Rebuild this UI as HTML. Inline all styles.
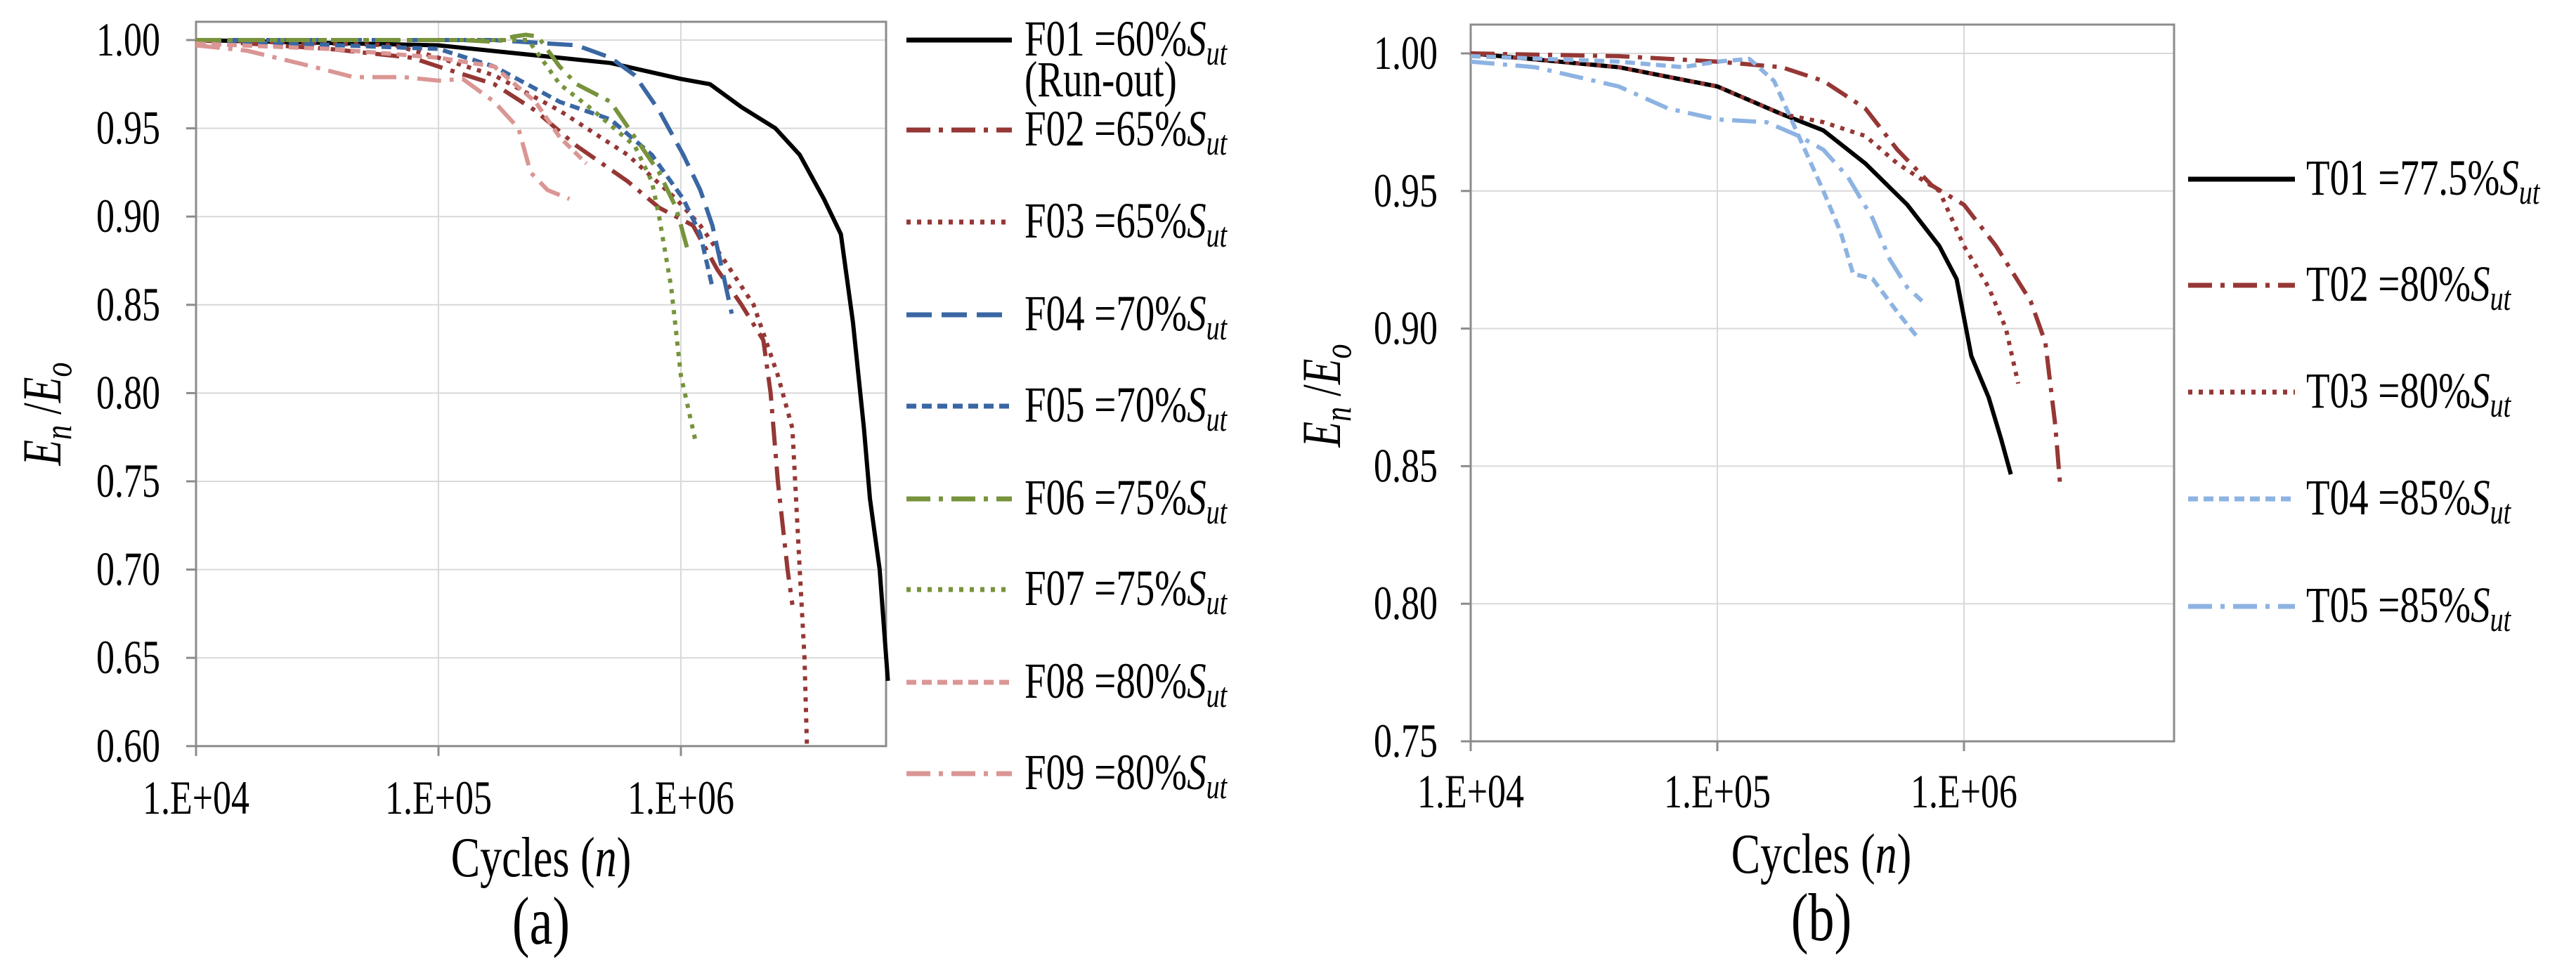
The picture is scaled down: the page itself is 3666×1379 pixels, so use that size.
<!DOCTYPE html>
<html><head><meta charset="utf-8"><style>
html,body{margin:0;padding:0;background:#fff}
svg{display:block}
text{font-family:"Liberation Serif",serif;fill:#000}
</style></head><body>
<svg id="s" width="3666" height="1379" viewBox="0 0 3666 1379" xmlns="http://www.w3.org/2000/svg"></svg>
<script>
// ---- Data (log10 cycles, En/Eo) ----
const xTicksA = [4,5,6];
const xTickLabels = ["1.E+04","1.E+05","1.E+06"];
const yTicksA = [1.00,0.95,0.90,0.85,0.80,0.75,0.70,0.65,0.60];
const yTicksB = [1.00,0.95,0.90,0.85,0.80,0.75];

const F01x=[4,5,5.71,6,6.12,6.25,6.39,6.49,6.59,6.66,6.71,6.755,6.78,6.82,6.854];
const F01y=[1,0.997,0.987,0.978,0.975,0.962,0.95,0.935,0.91,0.89,0.84,0.78,0.74,0.70,0.637];
const F02x=[4,4.55,4.89,5,5.23,5.40,5.57,5.78,5.91,6.05,6.15,6.25,6.34,6.37,6.40,6.44,6.46];
const F02y=[1,0.995,0.99,0.985,0.975,0.96,0.94,0.92,0.905,0.895,0.87,0.85,0.83,0.80,0.75,0.70,0.68];
const F03x=[4,4.82,5,5.23,5.50,5.78,5.98,6.08,6.18,6.30,6.40,6.46,6.49,6.51,6.52];
const F03y=[1,0.997,0.99,0.98,0.96,0.935,0.91,0.895,0.875,0.85,0.81,0.78,0.70,0.65,0.60];
const F04x=[4,5.23,5.57,5.71,5.81,5.91,6.01,6.08,6.13,6.17,6.21];
const F04y=[1,1,0.997,0.99,0.98,0.96,0.935,0.915,0.895,0.87,0.845];
const F05x=[4,5,5.23,5.50,5.71,5.88,6.01,6.08,6.13];
const F05y=[1,0.995,0.985,0.965,0.955,0.935,0.91,0.89,0.86];
const F06x=[4,5.1,5.23,5.31,5.36,5.41,5.50,5.57,5.71,5.81,5.91,5.98,6.03];
const F06y=[1,1,0.999,1.002,1.003,1.002,0.985,0.975,0.965,0.945,0.925,0.905,0.88];
const F07x=[4,5.23,5.37,5.50,5.64,5.81,5.88,5.91,5.96,6.0,6.06];
const F07y=[1,1,1,0.975,0.96,0.94,0.92,0.90,0.86,0.81,0.773];
const F08x=[4,4.55,5,5.23,5.40,5.50,5.61];
const F08y=[0.998,0.995,0.99,0.985,0.965,0.945,0.93];
const F09x=[4,4.21,4.48,4.65,4.86,5,5.10,5.23,5.33,5.38,5.45,5.54];
const F09y=[0.997,0.994,0.985,0.979,0.979,0.977,0.978,0.965,0.95,0.925,0.915,0.91];

const T01x=[4,4.60,5,5.26,5.43,5.60,5.77,5.90,5.97,6.03,6.10,6.15,6.19];
const T01y=[1,0.995,0.988,0.978,0.972,0.96,0.945,0.93,0.918,0.89,0.875,0.86,0.847];
const T02x=[4,4.60,5,5.26,5.43,5.60,5.73,5.87,6.0,6.13,6.27,6.33,6.37,6.39];
const T02y=[1,0.999,0.997,0.995,0.99,0.98,0.965,0.952,0.945,0.93,0.91,0.895,0.865,0.843];
const T03x=[4,4.60,5,5.26,5.43,5.60,5.73,5.90,6.0,6.10,6.17,6.22];
const T03y=[1,0.995,0.988,0.978,0.975,0.97,0.96,0.95,0.93,0.915,0.90,0.88];
const T04x=[4,4.60,4.86,5,5.13,5.23,5.33,5.43,5.50,5.55,5.63,5.73,5.81];
const T04y=[0.999,0.997,0.995,0.997,0.998,0.99,0.97,0.95,0.935,0.92,0.918,0.906,0.897];
const T05x=[4,4.26,4.60,4.80,5,5.20,5.33,5.43,5.53,5.63,5.70,5.77,5.83];
const T05y=[0.997,0.995,0.988,0.98,0.976,0.975,0.97,0.965,0.955,0.94,0.925,0.915,0.91];

const NS="http://www.w3.org/2000/svg";
const svg=document.getElementById('s');
function mk(tag,attrs,parent){const e=document.createElementNS(NS,tag);for(const k in attrs)e.setAttribute(k,attrs[k]);(parent||svg).appendChild(e);return e;}
const SY=1.3;
function txt(parent,x,y,size,anchor,html,sy,extraTransform){
  const t=mk('text',{x:0,y:0,"font-size":size,"text-anchor":anchor,
    transform:`translate(${x},${y}) ${extraTransform||''} scale(1,${sy||SY})`},parent);
  t.innerHTML=html;return t;
}

const C={black:"#000",brown:"#953735",blue:"#3A67A3",green:"#77933C",pink:"#DA9694",lblue:"#8DB3E2"};
const ST={solid:"",dashdot:"34,12,6,12",dot:"6,9",longdash:"36,14",shortdash:"14,8"};

function chart(cfg){
  const g=mk('g',{});
  
  
  const X=v=>cfg.x0+(v-4)*cfg.dec;
  const Y=v=>cfg.y1+(1-v)*cfg.per05/0.05;
  const bottom=Y(cfg.ymin), right=cfg.right, top=cfg.top;
  cfg.yt.forEach(v=>{ if(v<1.0001&&v>cfg.ymin){const l=mk('line',{x1:cfg.x0,x2:right,y1:Y(v),y2:Y(v),stroke:"#d9d9d9","stroke-width":2},g);
    }});
  xTicksA.forEach(v=>{ if(v>4){const l=mk('line',{x1:X(v),x2:X(v),y1:top,y2:bottom,stroke:"#d9d9d9","stroke-width":2},g);
    }});
  const fr=mk('rect',{x:cfg.x0,y:top,width:right-cfg.x0,height:bottom-top,fill:"none",stroke:"#8c8c8c","stroke-width":3},g);
  
  cfg.yt.forEach(v=>{
    const t=mk('line',{x1:cfg.x0-14,x2:cfg.x0,y1:Y(v),y2:Y(v),stroke:"#8c8c8c","stroke-width":3},g);
    
    const tx=txt(g,cfg.ylx,Y(v)+22,52,"end",v.toFixed(2));
    
  });
  xTicksA.forEach((v,i)=>{
    const t=mk('line',{x1:X(v),x2:X(v),y1:bottom,y2:bottom+14,stroke:"#8c8c8c","stroke-width":3},g);
    
    const tx=txt(g,X(v),cfg.xly,52,"middle",xTickLabels[i]);
    
  });
  cfg.series.forEach((s,i)=>{
    const d=s.x.map((v,j)=>(j?'L':'M')+X(v).toFixed(1)+','+Y(s.y[j]).toFixed(1)).join('');
    const p=mk('path',{d:d,fill:"none",stroke:C[s.c],"stroke-width":6,"stroke-dasharray":ST[s.st],"stroke-linejoin":"round"},g);
    
    const ly=cfg.legY[i];
    const ll=mk('line',{x1:cfg.legX1,x2:cfg.legX2,y1:ly,y2:ly,stroke:C[s.c],"stroke-width":7,"stroke-dasharray":ST[s.st]},g);
    
    const lt=txt(g,cfg.legT,ly+22,55,"start",s.n+' ='+s.p+'%<tspan font-style="italic">S</tspan><tspan font-style="italic" font-size="38" dy="10">ut</tspan>');
    
    if(s.extra){const e=txt(g,cfg.legT,ly+80,55,"start",s.extra);
      }
  });
  const yt=txt(g,cfg.ytx,cfg.yty,60,"middle",'<tspan font-style="italic">E</tspan><tspan font-style="italic" font-size="42" dy="12">n</tspan><tspan dy="-12"> /</tspan><tspan font-style="italic">E</tspan><tspan font-style="italic" font-size="42" dy="12">o</tspan>',SY,'rotate(-90)');
  
  const xt=txt(g,cfg.xtx,cfg.xty+4,62,"middle",'Cycles (<tspan font-style="italic">n</tspan>)');
  
  const pl=txt(g,cfg.xtx,cfg.xty+100,74,"middle",cfg.label);
  
}

chart({name:'chart-a',x0:279,dec:345,right:1261,top:31,y1:57,per05:125.6,ymin:0.60,yt:yTicksA,ylx:228,xly:1158,
  ytx:86,yty:589,xtx:770,xty:1243,label:'(a)',legX1:1290,legX2:1440,legT:1458,
  legY:[57,185,316,448,578,710,839,971,1101],
  series:[
   {n:'F01',p:'60',x:F01x,y:F01y,c:'black',st:'solid',extra:'(Run-out)'},
   {n:'F02',p:'65',x:F02x,y:F02y,c:'brown',st:'dashdot'},
   {n:'F03',p:'65',x:F03x,y:F03y,c:'brown',st:'dot'},
   {n:'F04',p:'70',x:F04x,y:F04y,c:'blue',st:'longdash'},
   {n:'F05',p:'70',x:F05x,y:F05y,c:'blue',st:'shortdash'},
   {n:'F06',p:'75',x:F06x,y:F06y,c:'green',st:'dashdot'},
   {n:'F07',p:'75',x:F07x,y:F07y,c:'green',st:'dot'},
   {n:'F08',p:'80',x:F08x,y:F08y,c:'pink',st:'shortdash'},
   {n:'F09',p:'80',x:F09x,y:F09y,c:'pink',st:'dashdot'}]});

chart({name:'chart-b',x0:2093,dec:351,right:3094,top:35,y1:76,per05:195.8,ymin:0.75,yt:yTicksB,ylx:2046,xly:1149,
  ytx:1907,yty:563,xtx:2592,xty:1238,label:'(b)',legX1:3114,legX2:3266,legT:3282,
  legY:[255,406,558,710,863],
  series:[
   {n:'T01',p:'77.5',x:T01x,y:T01y,c:'black',st:'solid'},
   {n:'T02',p:'80',x:T02x,y:T02y,c:'brown',st:'dashdot'},
   {n:'T03',p:'80',x:T03x,y:T03y,c:'brown',st:'dot'},
   {n:'T04',p:'85',x:T04x,y:T04y,c:'lblue',st:'shortdash'},
   {n:'T05',p:'85',x:T05x,y:T05y,c:'lblue',st:'dashdot'}]});
</script>
</body></html>
